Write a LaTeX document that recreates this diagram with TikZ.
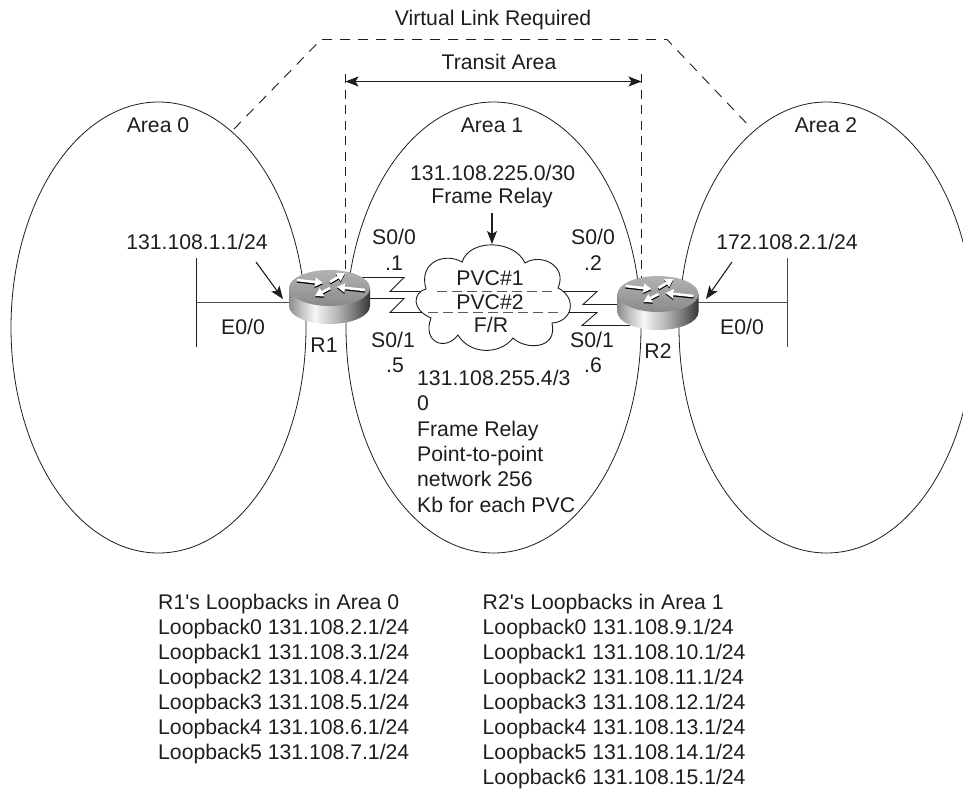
\documentclass[tikz,border=0pt]{standalone}
\usepackage{fontspec}
\setmainfont{Liberation Sans}[Ligatures=TeXOff]
\usetikzlibrary{arrows.meta}
\definecolor{ink}{HTML}{1E1E1E}
\definecolor{rsA}{HTML}{8C8C8C}
\definecolor{rsB}{HTML}{C4C4C4}
\definecolor{rsC}{HTML}{F6F6F6}
\definecolor{rsD}{HTML}{B4B4B4}
\definecolor{rsE}{HTML}{7A7A7A}
\definecolor{rsF}{HTML}{363636}
\pgfdeclarehorizontalshading{routerside}{100bp}{
  color(0bp)=(rsA); color(25bp)=(rsA); color(33bp)=(rsB); color(41bp)=(rsC);
  color(55bp)=(rsD); color(65bp)=(rsE); color(75bp)=(rsF); color(100bp)=(rsF)}
\tikzset{
  lbl/.style={text=ink,inner sep=0pt,font=\fontsize{21.2}{25.3}\selectfont},
  blockleft/.style={lbl,align=left,anchor=north west},
  loopblock/.style={blockleft,font=\fontsize{21.2}{25}\selectfont},
  area/.style={draw=ink,line width=0.8pt},
  thin line/.style={draw=ink,line width=0.9pt},
  bar/.style={draw=black!70,line width=1.2pt},
  vlink/.style={draw=ink,line width=0.9pt,dash pattern=on 10pt off 8pt},
  tlink/.style={draw=ink,line width=0.9pt,dash pattern=on 9pt off 6.5pt},
  pvc/.style={draw=black!65,line width=1.2pt,dash pattern=on 10pt off 5pt},
  ptr/.style={draw=ink,line width=1.1pt,-{Stealth[length=13pt,width=10pt,inset=3pt]}},
  span/.style={draw=ink,line width=0.9pt,{Stealth[length=13pt,width=10pt,inset=3pt]}-{Stealth[length=13pt,width=10pt,inset=3pt]}},
  wa/.style={white,line width=2.6pt,-{Triangle[length=8pt,width=9pt]}},
  ba/.style={black,line width=2.6pt,-{Triangle[length=8pt,width=9pt]}},
}
\newcommand{\routericon}[1]{%
  \begin{scope}[shift={(#1)}]
    \shade[shading=routerside]
      (-40.5,0) -- (-40.5,18)
      .. controls (-40.5,28) and (-22.4,36) .. (0,36)
      .. controls (22.4,36) and (40.5,28) .. (40.5,18)
      -- (40.5,0) -- cycle;
    \shade[top color=black!30,bottom color=black!46] (0,0) ellipse [x radius=40.5pt,y radius=18pt];
    \draw[ba,shift={(0,1.3)}] (-32.5,-8) -- (-6.5,-5);
    \draw[wa] (-32.5,-8) -- (-6.5,-5);
    \draw[ba,shift={(0,1.3)}] (0.5,-6) -- (15.5,-15);
    \draw[wa] (0.5,-6) -- (15.5,-15);
    \draw[ba,shift={(0,1.3)}] (35.5,2) -- (7.5,-1);
    \draw[wa] (35.5,2) -- (7.5,-1);
    \draw[ba,shift={(0,1.3)}] (0.5,0) -- (-14.5,8);
    \draw[wa] (0.5,0) -- (-14.5,8);
  \end{scope}}
\begin{document}
\begin{tikzpicture}[x=1pt,y=-1pt]
\clip (0,0) rectangle (963,790);
\fill[white] (0,0) rectangle (963,790);

% areas
\draw[area] (158.5,327.5) ellipse [x radius=147.5pt,y radius=225.5pt];
\draw[area] (493.5,327.5) ellipse [x radius=147.5pt,y radius=225.5pt];
\draw[area] (826.5,327.5) ellipse [x radius=147.5pt,y radius=225.5pt];

% anchor points
\coordinate (vA) at (234,129);
\coordinate (vB) at (321,39.5);
\coordinate (vC) at (667,39.5);
\coordinate (vD) at (751,128);
\coordinate (tL) at (345.5,81.5);
\coordinate (tR) at (641.5,81.5);
\coordinate (tLtop) at (345.5,74);
\coordinate (tRtop) at (641.5,74);
\coordinate (tLbot) at (345.5,275);
\coordinate (tRbot) at (641.5,280);
\coordinate (r1top) at (329.5,288);
\coordinate (r2top) at (658,294);

% virtual link and transit area
\draw[vlink] (vA) -- (vB) -- (vC) -- (vD);
\draw[tlink] (tLtop) -- (tLbot);
\draw[tlink] (tRtop) -- (tRbot);
\draw[span] (tL) -- (tR);

% ethernet segments
\coordinate (b1a) at (196.7,258);
\coordinate (b1b) at (196.7,347);
\coordinate (b1m) at (196.7,302.7);
\coordinate (b1r) at (295,302.7);
\coordinate (b2a) at (787.7,258);
\coordinate (b2b) at (787.7,347);
\coordinate (b2m) at (787.7,302.7);
\coordinate (b2r) at (695,302.7);
\draw[thin line] (b1a) -- (b1b);
\draw[bar] (b1m) -- (b1r);
\draw[bar] (b2a) -- (b2b);
\draw[bar] (b2m) -- (b2r);

% serial links
\coordinate (s1a) at (362,277.5);
\coordinate (s1b) at (404,277.5);
\coordinate (s1c) at (390,291.5);
\coordinate (s1d) at (437,291.5);
\coordinate (s2a) at (368,298.5);
\coordinate (s2b) at (404,298.5);
\coordinate (s2c) at (390,312.5);
\coordinate (s2d) at (428,312.5);
\coordinate (s3a) at (552,291.5);
\coordinate (s3b) at (597,291.5);
\coordinate (s3c) at (583,304.5);
\coordinate (s3d) at (625,304.5);
\coordinate (s4a) at (563,312.5);
\coordinate (s4b) at (597,312.5);
\coordinate (s4c) at (582,325.5);
\coordinate (s4d) at (630,325.5);
\draw[thin line] (s1a) -- (s1b) -- (s1c) -- (s1d);
\draw[thin line] (s2a) -- (s2b) -- (s2c) -- (s2d);
\draw[thin line] (s3a) -- (s3b) -- (s3c) -- (s3d);
\draw[thin line] (s4a) -- (s4b) -- (s4c) -- (s4d);

% cloud
\draw[area,fill=white,line width=0.9pt]
  (426,289) .. controls (418,262) and (445,252) .. (462,262)
  .. controls (470,238) and (515,240) .. (525,263)
  .. controls (540,253) and (568,265) .. (558,288)
  .. controls (578,298) and (572,322) .. (552,323)
  .. controls (558,350) and (525,350) .. (513,338)
  .. controls (500,355) and (470,355) .. (458,335)
  .. controls (445,352) and (422,342) .. (431,318)
  .. controls (412,310) and (412,293) .. (426,289) -- cycle;
\draw[pvc] (s1d) -- (s3a);
\draw[pvc] (s2d) -- (s4a);

% routers
\routericon{r1top}
\routericon{r2top}

% labels
\node[lbl] (vlinkt) at (493,20) {Virtual Link Required};
\node[lbl] (transit) at (499,62) {Transit Area};
\node[lbl] (a0) at (158,125) {Area 0};
\node[lbl] (a1) at (492,125) {Area 1};
\node[lbl] (a2) at (826,125) {Area 2};
\node[lbl] (fr1) at (492.7,173) {131.108.225.0/30};
\node[lbl] (fr2) at (492,198) {Frame Relay};
\node[lbl] (ip1) at (197,242) {131.108.1.1/24};
\node[lbl] (ip2) at (787,242) {172.108.2.1/24};
\node[lbl] (sa) at (394,237) {S0/0};
\node[lbl] (sb) at (394,263) {.1};
\node[lbl] (sc) at (593,237) {S0/0};
\node[lbl] (sd) at (593,263) {.2};
\node[lbl] (se) at (393,340) {S0/1};
\node[lbl] (sf) at (395,365) {.5};
\node[lbl] (sg) at (592,340) {S0/1};
\node[lbl] (sh) at (593,365) {.6};
\node[lbl] (p1) at (490,278) {PVC\#1};
\node[lbl] (p2) at (490,302) {PVC\#2};
\node[lbl] (p3) at (491,325) {F/R};
\node[lbl] (e1) at (243,327) {E0/0};
\node[lbl] (e2) at (742,327) {E0/0};
\node[lbl] (n1) at (324,345) {R1};
\node[lbl] (n2) at (658,351) {R2};
\node[blockleft] (blk) at (417,370) {131.108.255.4/3\\0\\Frame Relay\\Point-to-point\\network 256\\Kb for each PVC};
\node[loopblock] (lb1) at (158,594) {R1's Loopbacks in Area 0\\Loopback0 131.108.2.1/24\\Loopback1 131.108.3.1/24\\Loopback2 131.108.4.1/24\\Loopback3 131.108.5.1/24\\Loopback4 131.108.6.1/24\\Loopback5 131.108.7.1/24};
\node[loopblock] (lb2) at (482.5,594) {R2's Loopbacks in Area 1\\Loopback0 131.108.9.1/24\\Loopback1 131.108.10.1/24\\Loopback2 131.108.11.1/24\\Loopback3 131.108.12.1/24\\Loopback4 131.108.13.1/24\\Loopback5 131.108.14.1/24\\Loopback6 131.108.15.1/24};

% pointers
\coordinate (pf) at (492,213);
\coordinate (pft) at (492,244);
\coordinate (p1a) at (256,262);
\coordinate (p1b) at (283,299);
\coordinate (p2a) at (732,262);
\coordinate (p2b) at (706,299);
\draw[ptr] (pf) -- (pft);
\draw[ptr] (p1a) -- (p1b);
\draw[ptr] (p2a) -- (p2b);
\end{tikzpicture}
\end{document}
